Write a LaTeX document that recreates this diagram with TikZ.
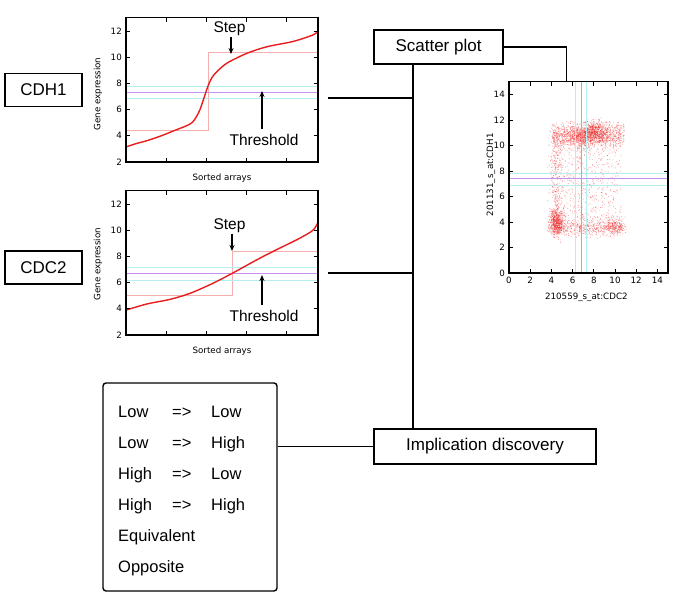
\documentclass[tikz,border=0pt]{standalone}
\usepackage{fontspec}
\setmainfont{Liberation Sans}
\newfontfamily\plotfont{DejaVu Sans}
\usetikzlibrary{arrows.meta}
\definecolor{curvered}{RGB}{232,30,30}
\definecolor{steppink}{RGB}{246,175,175}
\definecolor{thrpurple}{RGB}{200,145,235}
\definecolor{thrcyan}{RGB}{180,238,238}
\definecolor{dotred}{RGB}{240,40,40}
\newcommand\scatpts[3]{%
  \foreach \i in {1,...,#1}{%
    \pgfmathsetmacro\px{#2}\pgfmathsetmacro\py{#3}%
    \fill[dotred,opacity=0.5] (\px,\py) circle[radius=0.45pt];}}
\begin{document}
\begin{tikzpicture}[x=1pt,y=-1pt,
  box/.style={draw,line width=1.4pt,inner sep=0pt,font=\fontsize{17}{19}\selectfont},
  conn/.style={line width=1.4pt},
  frame/.style={line width=1.2pt},
  tickl/.style={line width=0.7pt},
  ticklab/.style={font=\plotfont\fontsize{8.7}{10}\selectfont,inner sep=0pt},
  anno/.style={font=\fontsize{15.5}{17}\selectfont,inner sep=0pt},
  annoarrow/.style={line width=1.3pt,-{Stealth[length=6pt,width=5pt]}},
  listtxt/.style={font=\fontsize{16.5}{18}\selectfont,inner sep=0pt,anchor=base west},
  declare function={gs(\s)=\s*(rnd+rnd+rnd+rnd-2)*1.732;}
]
\fill[white] (0,0) rectangle (685,604);
\useasboundingbox (0,0) rectangle (685,604);

% ---------- left gene boxes
\node[box,minimum width=77pt,minimum height=33pt] (cdh1) at (43.5,90) {CDH1};
\node[box,minimum width=77pt,minimum height=33pt] (cdc2) at (43.5,267.5) {CDC2};

% ---------- plot 1
\begin{scope}[xshift=126pt,yshift=-188.2pt,x=1pt,y=13.1pt]
  \draw[steppink,line width=0.8pt] (0,4.4) -- (82,4.4) -- (82,10.35) -- (192,10.35);
  \draw[thrcyan,line width=0.7pt] (0,7.8) -- (192,7.8) (0,6.85) -- (192,6.85);
  \draw[thrpurple,line width=0.7pt] (0,7.35) -- (192,7.35);
  \draw[curvered,line width=1.4pt] plot[smooth,tension=0.5] coordinates {
    (0,3.15) (10,3.4) (22,3.65) (37,4.05) (50,4.45) (60,4.75) (66,5.0) (70,5.4)
    (74,6.0) (78,6.9) (82,7.8) (86,8.45) (91,8.9) (101,9.55) (121,10.3)
    (141,10.8) (167,11.2) (187,11.7) (192,12.0)};
  \draw[frame] (0,2) rectangle (192,13);
  \foreach \v in {2,4,...,12}{
    \draw[tickl] (0,\v) -- ++(4pt,0);
    \draw[tickl] (192,\v) -- ++(-4pt,0);
    \node[ticklab,anchor=east] (p1y\v) at ([xshift=-4pt]0,\v) {\v};}
  \foreach \u in {40,80,120,160}{
    \draw[tickl] (\u,2) -- ++(0,4pt);
    \draw[tickl] (\u,13) -- ++(0,-4pt);}
  \node[ticklab,rotate=90] (p1ylab) at ([xshift=-28pt]0,7.2) {Gene expression};
  \node[ticklab] (p1xlab) at ([yshift=-16pt]96,2) {Sorted arrays};
\end{scope}
\node[anno] (step1) at (229.5,29) {Step};
\draw[annoarrow] (231,37) -- (231,54);
\node[anno] (thr1) at (264,140) {Threshold};
\draw[annoarrow] (262,129) -- (262,91);

% ---------- plot 2
\begin{scope}[xshift=126pt,yshift=-361.2pt,x=1pt,y=13.1pt]
  \draw[steppink,line width=0.8pt] (0,5.05) -- (106,5.05) -- (106,8.4) -- (192,8.4);
  \draw[thrcyan,line width=0.7pt] (0,7.2) -- (192,7.2) (0,6.2) -- (192,6.2);
  \draw[thrpurple,line width=0.7pt] (0,6.7) -- (192,6.7);
  \draw[curvered,line width=1.4pt] plot[smooth,tension=0.5] coordinates {
    (0,3.9) (21,4.37) (44,4.72) (64,5.18) (87,5.95) (106,6.7) (134,7.87)
    (154,8.64) (174,9.4) (187,10.0) (192,10.6)};
  \draw[frame] (0,2) rectangle (192,13);
  \foreach \v in {2,4,...,12}{
    \draw[tickl] (0,\v) -- ++(4pt,0);
    \draw[tickl] (192,\v) -- ++(-4pt,0);
    \node[ticklab,anchor=east] (p2y\v) at ([xshift=-4pt]0,\v) {\v};}
  \foreach \u in {40,80,120,160}{
    \draw[tickl] (\u,2) -- ++(0,4pt);
    \draw[tickl] (\u,13) -- ++(0,-4pt);}
  \node[ticklab,rotate=90] (p2ylab) at ([xshift=-28pt]0,7.4) {Gene expression};
  \node[ticklab] (p2xlab) at ([yshift=-16pt]96,2) {Sorted arrays};
\end{scope}
\node[anno] (step2) at (229.5,226) {Step};
\draw[annoarrow] (232,234) -- (232,251);
\node[anno] (thr2) at (264,316) {Threshold};
\draw[annoarrow] (262,305) -- (262,275);

% ---------- scatter plot
\begin{scope}[xshift=509pt,yshift=-273pt,x=10.6pt,y=12.75pt]
  \pgfmathsetseed{7}
  \scatpts{900}{4+6.6*rnd}{3+8.8*rnd}
  \scatpts{900}{4.1+6.8*rnd}{10.8+gs(0.45)}
  \scatpts{650}{8.1+gs(0.7)}{11.0+gs(0.45)}
  \scatpts{350}{6.6+gs(0.6)}{10.7+gs(0.4)}
  \scatpts{300}{4.4+gs(0.3)}{3+8.5*rnd}
  \scatpts{600}{4.5+gs(0.35)}{4.0+gs(0.5)}
  \scatpts{450}{4.2+6.6*rnd}{3.6+gs(0.35)}
  \scatpts{200}{9.8+gs(0.5)}{3.6+gs(0.3)}
  \draw[thrcyan,line width=0.7pt] (6.3,0) -- (6.3,15) (7.3,0) -- (7.3,15)
    (0,7.8) -- (15,7.8) (0,6.9) -- (15,6.9);
  \draw[thrpurple,line width=0.7pt] (6.8,0) -- (6.8,15) (0,7.4) -- (15,7.4);
  \draw[frame] (0,0) rectangle (15,15);
  \foreach \v in {0,2,...,14}{
    \draw[tickl] (0,\v) -- ++(4pt,0);
    \draw[tickl] (15,\v) -- ++(-4pt,0);
    \draw[tickl] (\v,0) -- ++(0,4pt);
    \draw[tickl] (\v,15) -- ++(0,-4pt);
    \node[ticklab,anchor=east] (scy\v) at ([xshift=-4pt]0,\v) {\v};
    \node[ticklab,anchor=north] (scx\v) at ([yshift=-4pt]\v,0) {\v};}
  \node[ticklab,rotate=90] (scylab) at ([xshift=-18pt]0,7.7) {201131\_s\_at:CDH1};
  \node[ticklab] (scxlab) at ([yshift=-24pt]7.3,0) {210559\_s\_at:CDC2};
  \coordinate (sctop) at (5.4,15);
\end{scope}

% ---------- right boxes
\node[box,minimum width=129pt,minimum height=34pt] (sp) at (438.5,47) {Scatter plot};
\node[box,minimum width=222pt,minimum height=35pt] (imp) at (485,446.5) {Implication discovery};

% ---------- list box
\node[draw,line width=1.4pt,rounded corners=3pt,minimum width=174pt,minimum height=208pt,inner sep=0pt] (list) at (190,487) {};
\node[listtxt] (l1a) at (118,417) {Low};
\node[listtxt] (l1b) at (172,417) {=>};
\node[listtxt] (l1c) at (211,417) {Low};
\node[listtxt] (l2a) at (118,448) {Low};
\node[listtxt] (l2b) at (172,448) {=>};
\node[listtxt] (l2c) at (211,448) {High};
\node[listtxt] (l3a) at (118,479) {High};
\node[listtxt] (l3b) at (172,479) {=>};
\node[listtxt] (l3c) at (211,479) {Low};
\node[listtxt] (l4a) at (118,510) {High};
\node[listtxt] (l4b) at (172,510) {=>};
\node[listtxt] (l4c) at (211,510) {High};
\node[listtxt] (l5) at (118,541) {Equivalent};
\node[listtxt] (l6) at (118,572) {Opposite};

% ---------- connectors
\coordinate (jx) at (413,0);
\coordinate (h1) at (328,98);
\coordinate (h2) at (328,273);
\draw[conn] (sp.south -| jx) -- (imp.north -| jx);
\draw[conn] (h1) -- (h1 -| jx);
\draw[conn] (h2) -- (h2 -| jx);
\draw[conn] (list.east |- imp.west) -- (imp.west);
\draw[conn] (sp.east) -| (sctop);
\end{tikzpicture}
\end{document}
